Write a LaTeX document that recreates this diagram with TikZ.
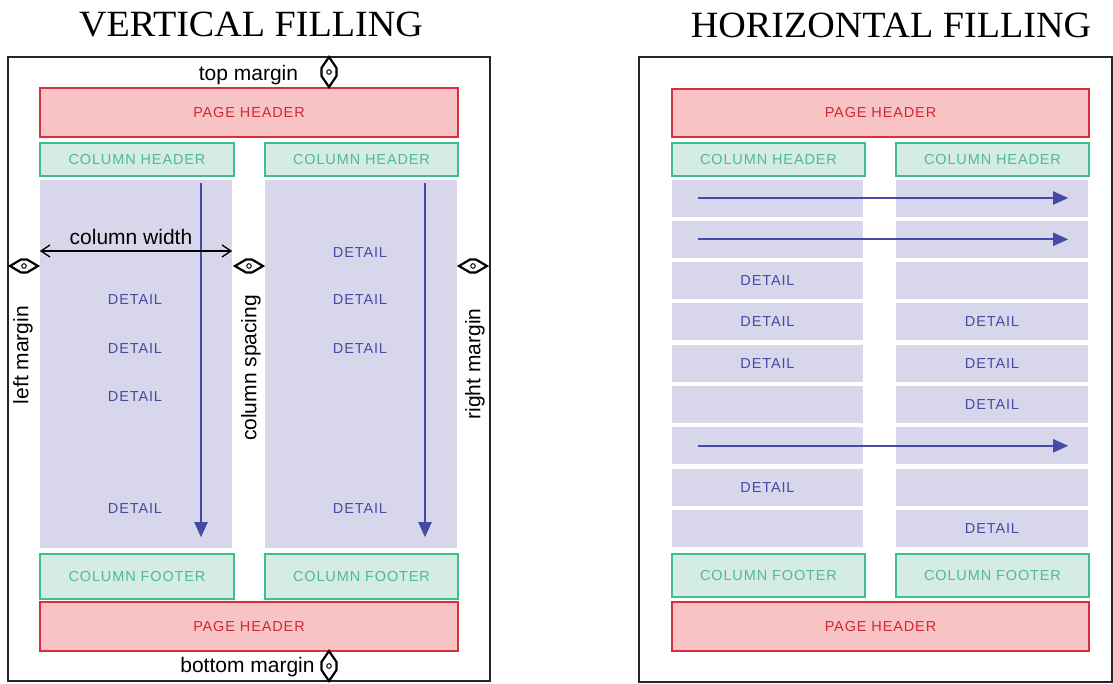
\documentclass[tikz,border=0pt]{standalone}
\usepackage{fontspec}
\setmainfont{Liberation Serif}
\newfontfamily\lsans{Liberation Sans}
\newfontfamily\spsans[LetterSpace=6]{Liberation Sans}
\usetikzlibrary{arrows.meta}
\definecolor{phfill}{RGB}{248,195,196}
\definecolor{phdraw}{RGB}{214,48,60}
\definecolor{phtext}{RGB}{210,40,50}
\definecolor{chfill}{RGB}{212,235,230}
\definecolor{chdraw}{RGB}{64,190,140}
\definecolor{chtext}{RGB}{80,185,150}
\definecolor{dtfill}{RGB}{216,214,235}
\definecolor{dtblue}{RGB}{68,74,165}
\tikzset{
  smalltext/.style={font=\spsans\fontsize{14.5}{14.5}\selectfont},
  bigtext/.style={font=\lsans\fontsize{21}{21}\selectfont, inner sep=0pt},
  titletext/.style={font=\fontsize{37}{37}\selectfont, xscale=1.03, inner sep=0pt},
  frame/.style={draw=black!85, line width=2.2pt},
  pagehdr/.style={smalltext, draw=phdraw, fill=phfill, line width=1.3pt, text=phtext, inner sep=0pt},
  colhdr/.style={smalltext, draw=chdraw, fill=chfill, line width=1.3pt, text=chtext, inner sep=0pt},
  detailbox/.style={smalltext, fill=dtfill, text=dtblue, inner sep=0pt},
  dlabel/.style={smalltext, text=dtblue, inner sep=0pt},
  flowarrow/.style={draw=dtblue, line width=2pt, -{Triangle[length=15pt,width=13pt]}},
  cwarrow/.style={draw=black, line width=1.3pt, {Straight Barb[length=9pt,width=12pt]}-{Straight Barb[length=9pt,width=12pt]}},
  hmarker/.pic={
    \draw[line width=2.2pt, line join=miter] (-14,0) -- (-3,-6.5) -- (3,-6.5) -- (14,0) -- (3,6.5) -- (-3,6.5) -- cycle;
    \draw[line width=1pt] (0,0) circle (2.3pt);
  },
  vmarker/.pic={
    \draw[line width=2.2pt, line join=miter] (0,-15) -- (-7.5,-4) -- (-7.5,4) -- (0,15) -- (7.5,4) -- (7.5,-4) -- cycle;
    \draw[line width=1pt] (0,0) circle (2.3pt);
  }
}
\begin{document}
\begin{tikzpicture}[x=1pt,y=-1pt]
\useasboundingbox (0,0) rectangle (1113,683);

% ---------- titles
\node[titletext] (t1) at (251,25) {VERTICAL FILLING};
\node[titletext] (t2) at (891,25) {HORIZONTAL FILLING};

% ================= VERTICAL FILLING =================
\draw[frame] (8,57) rectangle (490,681);
\node[pagehdr, minimum width=418pt, minimum height=49pt] (ph1) at (249,112.5) {PAGE HEADER};
\node[colhdr, minimum width=194pt, minimum height=33pt] (ch1L) at (137,159.5) {COLUMN HEADER};
\node[colhdr, minimum width=193pt, minimum height=33pt] (ch1R) at (361.5,159.5) {COLUMN HEADER};
\node[detailbox, minimum width=192pt, minimum height=368pt] (dt1L) at (136,364) {};
\node[detailbox, minimum width=192pt, minimum height=368pt] (dt1R) at (361,364) {};
\node[colhdr, minimum width=194pt, minimum height=45pt] (cf1L) at (137,576.5) {COLUMN FOOTER};
\node[colhdr, minimum width=193pt, minimum height=45pt] (cf1R) at (361.5,576.5) {COLUMN FOOTER};
\node[pagehdr, minimum width=418pt, minimum height=49pt] (pf1) at (249,626.5) {PAGE HEADER};

\node[dlabel] (d1) at (135,300) {DETAIL};
\node[dlabel] (d2) at (135,349) {DETAIL};
\node[dlabel] (d3) at (135,397) {DETAIL};
\node[dlabel] (d4) at (135,509) {DETAIL};
\node[dlabel] (d5) at (360,253) {DETAIL};
\node[dlabel] (d6) at (360,300) {DETAIL};
\node[dlabel] (d7) at (360,349) {DETAIL};
\node[dlabel] (d8) at (360,509) {DETAIL};

\draw[flowarrow] ([xshift=65pt,yshift=-3pt]dt1L.north) -- ([xshift=65pt,yshift=11pt]dt1L.south);
\draw[flowarrow] ([xshift=64pt,yshift=-3pt]dt1R.north) -- ([xshift=64pt,yshift=11pt]dt1R.south);

% column width
\coordinate (cwy) at (0,251);
\draw[cwarrow] (dt1L.west |- cwy) -- (dt1L.east |- cwy);
\node[bigtext] (cw) at (131,237) {column width};

% margins
\pic at (24,266) {hmarker};
\pic at (249,266) {hmarker};
\pic at (473,266) {hmarker};
\pic at (329,72) {vmarker};
\pic at (329,666) {vmarker};
\node[bigtext, rotate=90] (lm) at (23,355) {left margin};
\node[bigtext, rotate=90] (cs) at (251,368) {column spacing};
\node[bigtext, rotate=90] (rm) at (475,364) {right margin};
\node[bigtext] (tm) at (248.5,75) {top margin};
\node[bigtext] (bm) at (247.5,667) {bottom margin};

% ================= HORIZONTAL FILLING =================
\draw[frame] (639,57) rectangle (1112,682);
\node[pagehdr, minimum width=417pt, minimum height=48pt] (ph2) at (880.5,113) {PAGE HEADER};
\node[colhdr, minimum width=193pt, minimum height=33pt] (ch2L) at (768.5,159.5) {COLUMN HEADER};
\node[colhdr, minimum width=193pt, minimum height=33pt] (ch2R) at (992.5,159.5) {COLUMN HEADER};
\foreach \i in {0,...,8} {
  \node[detailbox, minimum width=191pt, minimum height=37pt] (rL\i) at (767.5,{198+41.3*\i}) {};
  \node[detailbox, minimum width=192pt, minimum height=37pt] (rR\i) at (992,{198+41.3*\i}) {};
}
\node[dlabel] (e1) at (rL2) {DETAIL};
\node[dlabel] (e2) at (rL3) {DETAIL};
\node[dlabel] (e3) at (rL4) {DETAIL};
\node[dlabel] (e4) at (rL7) {DETAIL};
\node[dlabel] (e5) at (rR3) {DETAIL};
\node[dlabel] (e6) at (rR4) {DETAIL};
\node[dlabel] (e7) at (rR5) {DETAIL};
\node[dlabel] (e8) at (rR8) {DETAIL};
\draw[flowarrow] ([xshift=26pt]rL0.west) -- ([xshift=-20pt]rR0.east);
\draw[flowarrow] ([xshift=26pt]rL1.west) -- ([xshift=-20pt]rR1.east);
\draw[flowarrow] ([xshift=26pt]rL6.west) -- ([xshift=-20pt]rR6.east);
\node[colhdr, minimum width=193pt, minimum height=43pt] (cf2L) at (768.5,575.5) {COLUMN FOOTER};
\node[colhdr, minimum width=193pt, minimum height=43pt] (cf2R) at (992.5,575.5) {COLUMN FOOTER};
\node[pagehdr, minimum width=417pt, minimum height=49pt] (pf2) at (880.5,626.5) {PAGE HEADER};
\end{tikzpicture}
\end{document}
